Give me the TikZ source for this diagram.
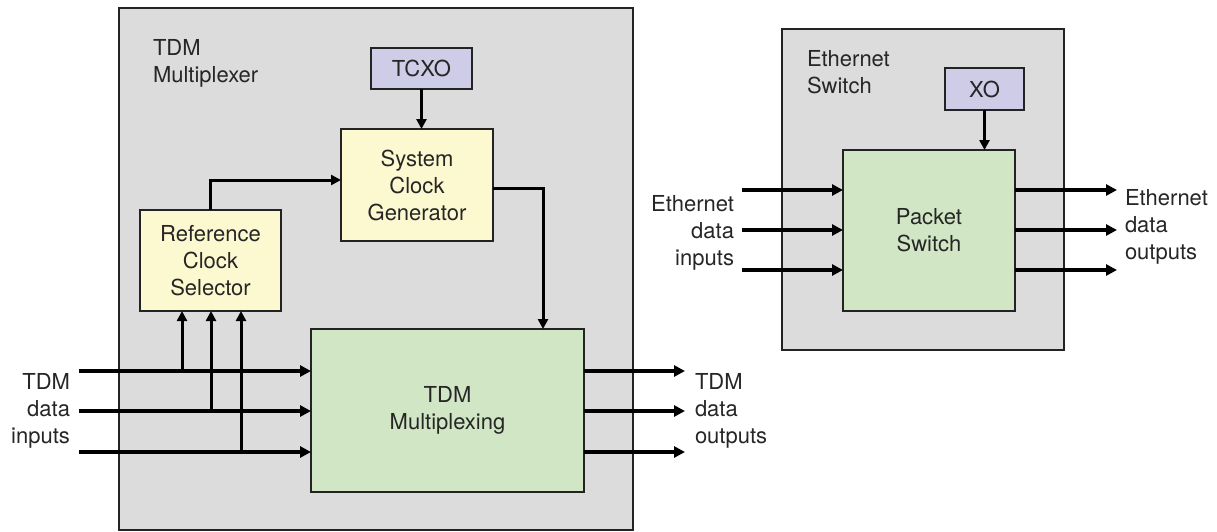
\documentclass[tikz,border=0pt]{standalone}
\usepackage{fontspec}
\setmainfont{TeX Gyre Heros}
\usetikzlibrary{arrows.meta}
\newcommand\dgfont{\fontsize{22}{27}\selectfont}
\definecolor{bggray}{RGB}{220,220,220}
\definecolor{boxyellow}{RGB}{252,249,208}
\definecolor{boxgreen}{RGB}{208,230,196}
\definecolor{boxpurple}{RGB}{207,204,232}
\definecolor{edge}{RGB}{35,35,35}
\tikzset{
  panel/.style={draw=edge, fill=bggray, line width=1.5pt, rectangle, inner sep=0pt, outer sep=0pt, anchor=north west},
  block/.style={draw=edge, line width=1.5pt, rectangle, inner sep=0pt, outer sep=0pt, anchor=north west, font=\dgfont, align=center, text=black!85},
  lbl/.style={font=\dgfont, inner sep=0pt, outer sep=0pt, text=black!85},
  bigarr/.style={line width=3.5pt, draw=black, -{Triangle[length=11pt,width=11pt]}},
  arr/.style={line width=3pt, draw=black, -{Triangle[length=10pt,width=10pt]}},
  plainline/.style={line width=3.5pt, draw=black}
}
\begin{document}
\begin{tikzpicture}[x=1pt,y=-1pt]
\useasboundingbox (0,0) rectangle (1217,531);
% left panel
\node[panel, minimum width=514pt, minimum height=522pt] (tdmpanel) at (119,8) {};
\node[lbl, anchor=north west, align=left] (tdmlbl) at (153,39) {TDM\\Multiplexer};
\node[block, fill=boxpurple, minimum width=101pt, minimum height=41pt] (tcxo) at (371,48) {TCXO};
\node[block, fill=boxyellow, minimum width=152pt, minimum height=112pt] (scg) at (341,129) {System\\Clock\\Generator};
\node[block, fill=boxyellow, minimum width=141pt, minimum height=101pt] (rcs) at (140,210) {Reference\\Clock\\Selector};
\node[block, fill=boxgreen, minimum width=273pt, minimum height=163pt] (mux) at (311,329) {TDM\\Multiplexing};
% right panel
\node[panel, minimum width=282pt, minimum height=321pt] (ethpanel) at (782,29) {};
\node[lbl, anchor=north west, align=left] (ethlbl) at (807,50) {Ethernet\\Switch};
\node[block, fill=boxpurple, minimum width=79pt, minimum height=42pt] (xo) at (945,68) {XO};
\node[block, fill=boxgreen, minimum width=172pt, minimum height=161pt] (pks) at (843,150) {Packet\\Switch};
% side labels
\node[lbl, anchor=north east, align=right] (tdmin) at (70,373) {TDM\\data\\inputs};
\node[lbl, anchor=north west, align=left] (tdmout) at (695,373) {TDM\\data\\outputs};
\node[lbl, anchor=north east, align=right] (ethin) at (734,195) {Ethernet\\data\\inputs};
\node[lbl, anchor=north west, align=left] (ethout) at (1125,189) {Ethernet\\data\\outputs};
% coordinates
\coordinate (ti1) at (79,371);
\coordinate (ti2) at (79,411);
\coordinate (ti3) at (79,452);
\coordinate (tp1) at (182,371);
\coordinate (tp2) at (211,411);
\coordinate (tp3) at (241,452);
\coordinate (to1) at (685,371);
\coordinate (to2) at (685,411);
\coordinate (to3) at (685,452);
\coordinate (drop) at (543,0);
\coordinate (ei1) at (742,190);
\coordinate (ei2) at (742,230);
\coordinate (ei3) at (742,270);
\coordinate (eo1) at (1117,190);
\coordinate (eo2) at (1117,230);
\coordinate (eo3) at (1117,270);
% TDM connectors
\draw[bigarr] (ti1) -- (ti1 -| mux.west);
\draw[bigarr] (ti2) -- (ti2 -| mux.west);
\draw[bigarr] (ti3) -- (ti3 -| mux.west);
\draw[arr] (tp1) -- (tp1 |- rcs.south);
\draw[arr] (tp2) -- (tp2 |- rcs.south);
\draw[arr] (tp3) -- (tp3 |- rcs.south);
\draw[bigarr] (to1 -| mux.east) -- (to1);
\draw[bigarr] (to2 -| mux.east) -- (to2);
\draw[bigarr] (to3 -| mux.east) -- (to3);
\draw[arr] (tcxo.south) -- (tcxo.south |- scg.north);
\draw[arr] (rcs.north) |- ([yshift=5pt]scg.west);
\draw[arr] ([yshift=-3pt]scg.east) -| (mux.north -| drop);
% Ethernet connectors
\draw[bigarr] (ei1) -- (ei1 -| pks.west);
\draw[bigarr] (ei2) -- (ei2 -| pks.west);
\draw[bigarr] (ei3) -- (ei3 -| pks.west);
\draw[bigarr] (eo1 -| pks.east) -- (eo1);
\draw[bigarr] (eo2 -| pks.east) -- (eo2);
\draw[bigarr] (eo3 -| pks.east) -- (eo3);
\draw[arr] (xo.south) -- (xo.south |- pks.north);
\end{tikzpicture}
\end{document}
